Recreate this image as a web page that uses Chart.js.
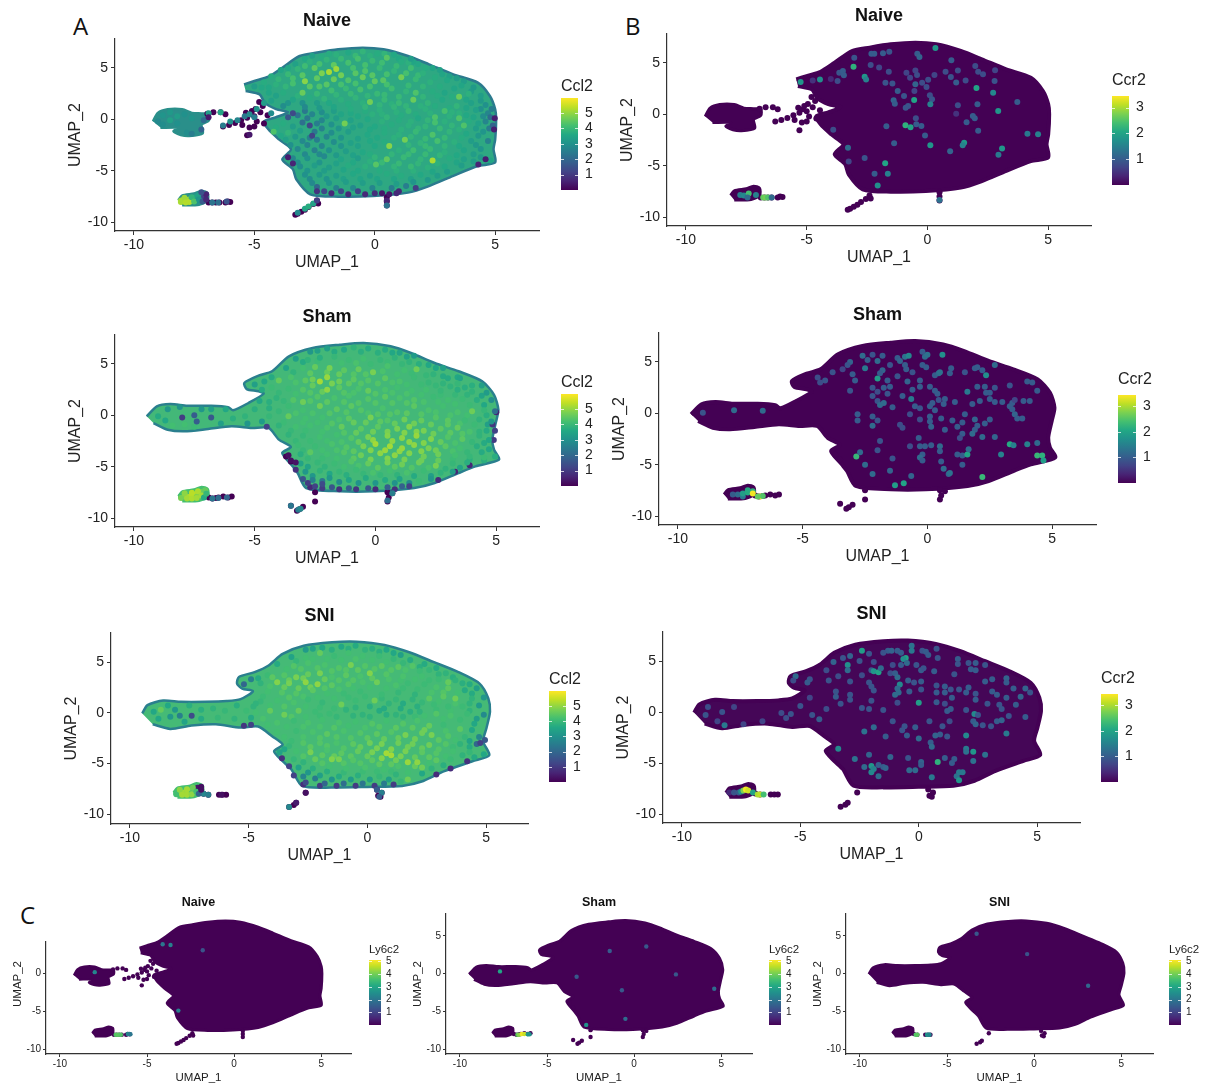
<!DOCTYPE html>
<html>
<head>
<meta charset="utf-8">
<title>UMAP feature plots</title>
<script src="https://cdn.jsdelivr.net/npm/chart.js@4"></script>
<style>
  html, body { margin: 0; background: #fff; }
  #page { position: relative; width: 1211px; height: 1083px; overflow: hidden; }
  canvas { position: absolute; filter: blur(0.45px); }
  .tag { position: absolute; font: 24px "Open Sans", sans-serif; color: #111; line-height: 24px; }
</style>
</head>
<body>
<div id="page">
  <div class="tag" style="left:73px;top:14px">A</div>
  <div class="tag" style="left:625px;top:14px">B</div>
  <div class="tag" style="left:20px;top:903px">C</div>
</div>
<script>
// tick labels
var xTickValues = [-10, -5, 0, 5];
var yTickValues = [5, 0, -5, -10];
var yTickValuesCut = [0, -5, -10];
var ccl2Ticks = [1, 2, 3, 4, 5];
var ccr2Ticks = [1, 2, 3];
var ly6c2Ticks = [1, 2, 3, 4, 5];

// top of each colour bar, in expression units
var ccl2Max = 5.98;
var ccr2Max = 3.45;
var ly6c2Max = 5.1;

var viridis = ['#440154', '#482475', '#414487', '#355f8d', '#2a788e', '#21918c', '#22a884', '#44bf70', '#7ad151', '#bddf26', '#fde725'];

// outlines of the big cell cloud
var naiveOutline = [[-5.43,3.4],[-5,3.73],[-4.42,4.15],[-3.84,5.03],[-3.12,6.17],[-2.39,6.5],[-1.52,6.82],[-.5,6.98],[.36,6.82],[1.38,6.17],[2.25,5.36],[3.26,4.38],[4.28,3.57],[4.78,2.27],[5,.97],[5.04,0],[5,-1.95],[4.93,-2.92],[5,-4.2],[4.28,-4.55],[3.26,-5.5],[2.25,-6.5],[1.38,-7.14],[-.07,-7.47],[-1.52,-7.53],[-2.68,-7.3],[-3.26,-5.84],[-3.4,-4.87],[-3.84,-3.9],[-3.48,-2.92],[-3.98,-1.95],[-4.42,-.97],[-4.6,-.2],[-4.1,.2],[-3.6,.7],[-4.1,1],[-4.56,1.6],[-4.78,2.43],[-5.36,2.76]];
var shamOutline = [[-9.47,-.1],[-9.05,.88],[-8.49,1.1],[-7.79,.94],[-6.8,.94],[-6.1,.8],[-5.89,.49],[-5.26,1.2],[-4.63,2.1],[-4.84,2.34],[-5.33,2.56],[-5.43,3.15],[-4.84,3.86],[-4.28,4.29],[-3.58,5.75],[-2.6,6.56],[-1.47,6.88],[-.49,7.05],[.63,6.72],[1.47,6.07],[2.45,5.1],[3.44,4.29],[4.42,3.31],[4.91,2],[5.09,.55],[4.98,-.75],[4.84,-2.37],[4.91,-3.34],[5.12,-4.3],[4.14,-4.97],[3.44,-5.62],[2.45,-6.59],[1.61,-7.08],[-.07,-7.4],[-1.47,-7.4],[-2.87,-7.08],[-3.22,-5.62],[-3.43,-4.97],[-3.86,-3.67],[-3.5,-3.08],[-4,-2.37],[-4.42,-1.23],[-5.12,-1.23],[-5.96,-1.07],[-6.93,-1.33],[-7.91,-1.56],[-8.6,-1.4],[-9.19,-.75]];
var sniOutline = [[-9.48,-.07],[-9.26,.75],[-8.6,1.2],[-7.85,1.07],[-6.82,1.07],[-5.93,1.14],[-5.34,1.33],[-4.82,2.12],[-5.27,2.38],[-5.49,2.87],[-5.41,3.52],[-4.75,4],[-4.16,4.66],[-3.57,5.8],[-2.68,6.6],[-1.49,6.94],[-.46,7],[.72,6.68],[1.76,5.96],[2.8,4.98],[3.83,4],[4.72,2.87],[5.09,1.4],[5.16,.1],[5.01,-1.53],[4.87,-2.83],[5.13,-4.2],[4.42,-4.79],[3.24,-5.77],[2.35,-6.74],[1.46,-7.23],[-.01,-7.33],[-1.49,-7.39],[-2.75,-7.23],[-3.2,-5.6],[-3.57,-4.79],[-3.93,-3.81],[-3.57,-3.16],[-4,-2.35],[-4.6,-1.37],[-5.34,-1.47],[-6.38,-1.14],[-7.41,-1.27],[-8.3,-1.6],[-9.04,-1.14]];
// detached pieces: the naive tail and the little cluster at the lower left
var naiveTailOutline = [[-9.2,-.2],[-9,.6],[-8.6,.95],[-8,.95],[-7.6,.6],[-7.2,.55],[-6.9,.5],[-6.9,-.1],[-7.2,-.5],[-7.15,-1.35],[-7.7,-1.6],[-8.05,-1.5],[-8.35,-1.15],[-8.15,-.8],[-8.9,-.8]];
var clusterOutline = [[-8.15,-7.9],[-8,-7.45],[-7.5,-7.25],[-7.2,-7],[-6.95,-7.2],[-6.95,-7.9],[-7.3,-8.3],[-8,-8.35]];

// small clusters and the loose naive tail, lowest expression
var naiveLoose = [[-6.7,.7],[-6.4,.7],[-6.2,.5],[-6.95,.55],[-6.3,-.7],[-6.05,-.55],[-5.8,-.35],[-5.55,-.1],[-5.3,.15],[-5.15,.5],[-5,.3],[-4.9,-.2],[-5.2,-.8],[-5,-.7],[-5.3,-1.55],[-5.5,-.55],[-4.75,.7],[-4.95,1],[-4.65,1.3],[-4.45,.4],[-4.8,1.7],[-4.6,-.4],[-5.1,.8],[-5.35,.65],[-6.9,-8.1],[-6.75,-8.1],[-6.6,-8.1],[-6.45,-8.1],[-6.2,-8.1],[-6.1,-8],[-6,-8.05],[-3.3,-9.3],[-3.2,-9.2],[-3.05,-9],[-2.9,-8.8],[-2.75,-8.55],[-2.55,-8.25],[-2.4,-7.9],[-2.35,-8.2],[.5,-7.6],[.5,-8],[.5,-8.4]];
var shamLoose = [[-6.9,-8],[-6.75,-8.1],[-6.6,-8.05],[-6.5,-8],[-6.3,-7.9],[-6.1,-8],[-5.95,-7.9],[-3.5,-8.8],[-3.25,-9.3],[-3.15,-9.15],[-3,-8.9],[-2.5,-8.4],[-2.5,-7.5],[.5,-7.5],[.5,-8.4],[.55,-8],[.7,-7.6],[-3.7,-4],[-3.5,-4.5]];
var sniLoose = [[-6.9,-8],[-6.7,-8.1],[-6.25,-8.1],[-6.1,-8.1],[-5.95,-8.1],[-3.3,-9.3],[-3.1,-9.1],[-3,-8.9],[-2.6,-7.9],[.4,-7.6],[.45,-8.2],[.55,-8.3],[.6,-7.9]];

// brighter cells, [UMAP_1, UMAP_2, expression]
var naiveCcl2 = [[-2.6,6.2,3.1],[-1.9,6.4,3.4],[-1.1,6.5,3.3],[-.5,6.6,3.6],[.1,6.4,3.4],[.8,6.3,3.3],[1.5,5.9,3],[-3.3,5.4,3.1],[-2.7,5.6,3.5],[-2,5.8,3.6],[-1.4,5.9,3.7],[-.7,5.9,3.9],[-.1,5.7,3.7],[.5,6,4.1],[1.1,5.6,3.4],[1.8,5.4,3.3],[2.4,5,3.2],[-3.9,4.8,3.2],[-3.2,4.9,3.6],[-2.5,5,4.2],[-1.9,4.6,4.9],[-1.6,4.9,4.8],[-.9,5,3.9],[-.4,4.7,4],[.2,5,3.7],[.8,4.7,3.6],[1.5,5,3.8],[2,4.5,3.5],[2.8,4.4,3.2],[3.4,4,3],[-4.6,3.6,3.4],[-4,3.9,3.6],[-3.4,4,3.9],[-2.9,3.7,4.6],[-2.4,4,4.2],[-1.7,3.9,4.3],[-1.1,3.8,4],[-.5,4.1,4.3],[0,3.7,4.2],[.35,3.8,4.1],[1.1,4.1,4.4],[1.7,3.9,3.7],[2.3,3.6,3.5],[3,3.8,3.3],[3.6,3.3,3.2],[4.1,3.1,2.9],[-5,3.2,3],[-4.4,3.1,3.3],[-3.7,3.2,3.6],[-3,2.6,4.3],[-2.3,3.2,4],[-1.8,2.8,3.8],[-1.2,3,3.7],[-.6,2.9,3.9],[.1,2.5,3.7],[.7,3,3.8],[1.3,2.7,3.6],[1.7,2.6,4],[2.4,2.7,3.4],[2.9,2.6,3.2],[3.5,2.2,4.3],[3.9,2.5,3.5],[4.4,2.3,3],[-4.1,2.3,3.1],[-3.4,1.9,3.2],[-2.7,2.1,3.4],[-2.1,2,3.6],[-1.4,1.9,3.5],[-.8,2.1,3.6],[-.2,1.7,4.4],[.4,1.9,3.7],[1,1.6,3.7],[1.6,1.9,4.3],[2.2,1.6,3.6],[2.8,1.9,3.3],[3.4,1.3,3.6],[4,1.6,3.1],[4.6,1.4,2.7],[-3.8,1.3,2.6],[-2.9,1.2,2.5],[-2.3,1.1,2.9],[-1.7,1.2,3.2],[-1,1,3.4],[-.4,1.2,3.6],[.2,.9,3.5],[.8,1.2,3.6],[1.4,.8,3.7],[2.1,1,3.5],[2.9,.8,3.9],[3.5,.6,3.5],[4.2,.9,3.1],[4.7,.6,2.4],[-4.3,.6,2.6],[-3.2,.4,2],[-2.6,.5,2.4],[-2,.3,2.9],[-1.4,.5,3.2],[-.7,.3,3.3],[-.1,.5,3.5],[.5,.2,3.6],[1.1,.4,3.4],[1.8,.1,3.3],[2.5,.2,4],[3.1,.3,3.5],[3.5,.1,4],[4.1,.2,3.2],[4.8,.2,1.8],[-3.8,-.4,3.4],[-3,-.3,1.9],[-2.4,-.4,2.2],[-1.8,-.5,2.7],[-1.25,-.4,4.4],[-.6,-.6,3.1],[0,-.7,3.3],[.7,-.5,3.4],[1.4,-.6,3.5],[2.1,-.7,3.6],[2.5,-.3,3.9],[3.2,-.6,3.6],[3.7,-.6,4],[4.3,-.4,3.1],[4.9,-.6,1.6],[-4.2,-1.2,4],[-3.6,-1.3,3.6],[-3.1,-1.1,3],[-2.5,-1.2,2.1],[-1.8,-1.3,2.6],[-1.1,-1.2,3],[-.3,-1.5,3.3],[.4,-1.3,3.4],[1,-1.5,3.5],[1.7,-1.2,3.7],[2.4,-1.5,4],[3.1,-1.2,3.6],[3.8,-1.4,3.3],[4.5,-1.2,2.8],[-3.7,-2,3.1],[-3,-2.1,2.5],[-2.4,-2,2.2],[-1.7,-2.2,2.6],[-1,-2.3,3.1],[-.2,-2.1,3.3],[.4,-2.2,3.4],[1.25,-2,4.4],[1.9,-2.3,3.6],[2.6,-2.1,3.9],[3.3,-2.2,3.5],[4,-2.1,3],[4.7,-2.1,2.3],[-3.2,-2.9,2.5],[-2.5,-3,2.3],[-1.9,-3,2.7],[-1.2,-3.1,3],[-.5,-3.2,3.3],[.6,-2.6,4.6],[1,-3,3.5],[1.6,-3,3.8],[2.3,-2.9,3.7],[2.9,-3.2,3.5],[3.7,-3,3.2],[4.4,-2.9,2.8],[-3.4,-3.8,2.4],[-2.8,-3.8,2.7],[-2.1,-3.6,2.5],[-1.4,-3.9,3.2],[-.7,-3.8,3],[0,-3.7,3.6],[.5,-3.9,4.2],[1.2,-3.7,3.7],[1.9,-3.9,3.6],[2.4,-4,4.9],[3.1,-3.8,3.4],[3.7,-3.9,3.1],[4.4,-3.7,2.9],[4.8,-4,3.2],[-3.1,-4.6,2.6],[-2.5,-4.5,3],[-1.9,-4.7,3],[-1.1,-4.5,3.4],[-.4,-4.6,3.5],[.05,-4.4,4.1],[.8,-4.6,3.6],[1.5,-4.6,3.7],[2.2,-4.7,3.5],[2.9,-4.6,3.3],[3.6,-4.5,3],[-2.9,-5.4,2.7],[-2.3,-5.4,2.9],[-1.6,-5.5,3],[-.9,-5.3,3.3],[-.2,-5.5,3.1],[.5,-5.3,3.4],[1.1,-5.5,3.4],[1.9,-5.4,3.3],[2.6,-5.5,3],[-2.6,-6.2,2.5],[-1.9,-6.2,2.8],[-1.2,-6.1,3],[-.5,-6.2,3],[.2,-6.2,3],[.9,-6.3,3],[1.6,-6.1,2.8],[-2.4,-7,.6],[-1.8,-7.2,.4],[-1.1,-7.3,.4],[-.4,-7.3,.4],[.3,-7.2,.1],[.6,-7.3,.1],[1,-7,.4],[1.7,-6.7,.8],[4.6,-3.9,.2],[4.3,-4.4,.3],[4.95,-1,.2],[4.98,.1,.2],[-3.4,-4.3,.3],[-3.6,-3.7,.2],[-2.6,-1.6,.9],[-2.7,-.6,1],[-3.4,.6,1],[-3.6,.2,1.3],[-9,-.2,2.5],[-8.8,.4,2.8],[-8.5,.7,2.9],[-8.2,.3,3],[-7.9,.5,2.7],[-7.6,.1,2.8],[-8.8,-.5,2.6],[-8.5,-.1,3.1],[-8.2,-.4,2.7],[-7.8,-1.3,2.6],[-7.6,-1.4,2.2],[-7.2,-1,1.6],[-6.9,.6,3],[-6.4,.7,3.2],[-7.1,-.1,1.8],[-6.9,.2,.1],[-6.3,-.6,2.2],[-6,-.2,2.7],[-5.7,-.1,2.4],[-5.4,.3,2.1],[-5.2,.5,2.5],[-5,.2,2.2],[-5.2,-1.5,.1],[-4.9,1,2.8],[-4.6,1.6,3],[-8.05,-7.9,4.7],[-7.95,-7.85,4.9],[-7.8,-7.9,5],[-7.7,-7.8,4.9],[-7.6,-7.7,3.8],[-7.45,-7.6,3.3],[-7.3,-7.4,3],[-7.15,-7.3,2.5],[-7.4,-7.95,2.7],[-7.1,-7.6,.9],[-6.75,-8.1,2],[-6.5,-8.1,1.9],[-6.15,-8,1.2],[-3.2,-9.1,2.5],[-2.9,-8.7,3.2],[-2.75,-8.5,3.4],[-2.55,-8.2,3.1],[-2.4,-7.9,.8],[.5,-7.9,.3],[.5,-8.4,2],[-8.05,-8.05,4.9],[-7.9,-7.65,4.8],[-7.85,-8.1,5],[-7.7,-8.05,5],[-7.6,-7.6,3.6],[-7.5,-8,4],[-7.35,-7.45,3.1],[-7.3,-7.8,2.8],[-7.15,-8,1.4],[-7,-7.8,.4],[-7,-7.3,.3],[-7.2,-7.1,1.2]];
var naiveCcl2Fill = [[-2.9,5.9,3.3],[-2.2,6.1,3.4],[-1.6,6.3,3.5],[-.8,6.2,3.7],[-.2,6.2,3.5],[.4,6.4,3.6],[1,5.9,3.3],[1.6,5.6,3.2],[-3.6,5,3.3],[-2.9,5.2,3.8],[-2.3,5.4,3.9],[-1.7,5.3,4.2],[-1.1,5.5,3.9],[-.4,5.3,3.9],[.3,5.5,3.8],[.9,5.2,3.7],[1.4,5.5,3.5],[2.1,5,3.4],[2.7,4.8,3.1],[-4.3,4.2,3.4],[-3.6,4.4,3.7],[-3,4.3,4.1],[-2.2,4.5,4.5],[-1.4,4.3,4.4],[-.8,4.5,4.1],[-.1,4.3,4.1],[.5,4.4,3.9],[1.3,4.5,3.9],[1.8,4.3,3.7],[2.5,4.1,3.4],[3.1,4.2,3.1],[3.7,3.7,3],[-4.7,3.1,3.3],[-4.1,3.4,3.5],[-3.4,3.5,3.9],[-2.7,3.2,4.1],[-2,3.4,4.1],[-1.4,3.4,3.9],[-.8,3.5,3.9],[-.2,3.2,3.9],[.5,3.4,3.9],[1.4,3.3,3.7],[2,3.2,3.6],[2.7,3.2,3.4],[3.3,3,3.2],[4,2.7,3],[-4.4,2.6,3.2],[-3.8,2.6,3.4],[-3.2,2.3,3.5],[-2.4,2.5,3.7],[-1.6,2.4,3.6],[-1,2.5,3.7],[-.3,2.3,3.6],[.4,2.4,3.7],[1,2.2,3.7],[2,2.2,3.6],[2.6,2.3,3.4],[3.2,2.2,3.4],[3.8,1.9,3.2],[4.4,1.8,2.9],[-4.3,1.8,3.1],[-3.6,1.6,2.8],[-3,1.6,2.7],[-2.4,1.6,3],[-1.9,1.6,3.3],[-1.1,1.5,3.4],[-.5,1.6,3.5],[.2,1.4,3.6],[.7,1.5,3.5],[1.3,1.3,3.6],[1.9,1.3,3.5],[2.5,1.3,3.4],[3.1,1.1,3.4],[3.8,1.1,3.2],[4.4,1,2.7],[4.85,1,2.2],[-2.9,.8,2.1],[-2.2,.7,2.6],[-1.7,.8,3],[-1,.6,3.3],[-.4,.8,3.4],[.3,.5,3.5],[.9,.7,3.5],[1.7,.5,3.4],[2.3,.6,3.5],[3.2,.7,3.5],[3.8,.4,3.3],[4.5,.3,2.6],[-2.8,.1,2.1],[-2.2,-.1,2.4],[-1.6,.1,3],[-1,-.1,3.1],[-.3,0,3.3],[.3,-.2,3.5],[1,-.1,3.4],[1.5,-.2,3.5],[2.2,-.1,3.6],[2.9,-.2,3.5],[3.9,-.2,3.4],[4.6,-.2,2.4],[-4.1,-.8,3.4],[-3.4,-.7,3],[-2.2,-.9,2.3],[-1.5,-.9,2.8],[-.9,-.8,3.1],[-.2,-1,3.3],[.4,-.9,3.4],[1.1,-1,3.5],[1.8,-.9,3.6],[2.7,-.9,3.7],[3.5,-1,3.5],[4.2,-.9,3],[4.75,-.9,2.2],[-3.9,-1.6,3.3],[-3.3,-1.7,2.9],[-2.7,-1.8,2.3],[-2,-1.7,2.4],[-1.4,-1.8,2.8],[-.7,-1.9,3.1],[.1,-1.8,3.3],[.8,-1.8,3.5],[1.5,-1.7,3.6],[2.1,-1.9,3.7],[2.9,-1.8,3.7],[3.6,-1.8,3.4],[4.3,-1.6,2.9],[-3.5,-2.5,2.7],[-2.8,-2.5,2.4],[-2.2,-2.6,2.4],[-1.4,-2.6,2.8],[-.7,-2.6,3.1],[0,-2.6,3.3],[1.4,-2.5,3.6],[2.1,-2.6,3.7],[2.9,-2.6,3.6],[3.5,-2.6,3.3],[4.2,-2.5,2.9],[-2.9,-3.4,2.5],[-2.3,-3.4,2.5],[-1.6,-3.5,2.9],[-.9,-3.5,3.1],[-.2,-3.4,3.4],[.7,-3.4,3.6],[1.4,-3.4,3.7],[2.1,-3.4,3.7],[2.7,-3.5,3.6],[3.4,-3.5,3.3],[4.1,-3.4,3],[-3.2,-4.2,2.6],[-2.3,-4.2,2.8],[-1.6,-4.3,3.1],[-.9,-4.2,3.3],[-.2,-4.1,3.5],[.3,-4.2,3.7],[1,-4.3,3.7],[1.8,-4.3,3.6],[2.6,-4.3,3.5],[3.4,-4.2,3.2],[4.1,-4.1,3],[-2.8,-5,2.8],[-2.1,-5,3],[-1.3,-4.9,3.2],[-.7,-5,3.3],[.2,-5,3.4],[.9,-5,3.5],[1.6,-5,3.5],[2.4,-5.1,3.2],[3,-5.1,3],[-2.7,-5.8,2.6],[-2,-5.8,2.8],[-1.3,-5.8,3.1],[-.6,-5.8,3.2],[.1,-5.8,3.2],[.8,-5.8,3.2],[1.5,-5.8,3.1],[2.2,-5.9,2.9],[-2.4,-6.6,1.7],[-1.6,-6.7,2.3],[-.9,-6.7,2.5],[-.1,-6.7,2.4],[.7,-6.7,2.2],[1.3,-6.5,2.2],[-2.1,-7,1],[-1.4,-7,1],[-.7,-7,.9],[0,-7.2,.5],[.9,-7.2,.4]];
var shamCcl2 = [[-2.7,6.2,3],[-2,6.5,3.2],[-1.3,6.4,3.4],[-.9,6.6,3.7],[-.3,6.5,3.5],[.4,6.4,3.5],[1,6.1,3.3],[1.6,5.8,3.1],[-3.3,5.5,3.2],[-2.8,5.4,3.7],[-2.3,5.6,3.6],[-1.7,5.7,3.8],[-1.1,5.4,3.9],[-.5,5.5,4],[.2,5.4,3.8],[.8,5.6,3.7],[1.4,5.2,3.7],[2.2,4.9,3.4],[2.8,4.6,3.2],[-3.7,4.6,3.3],[-3,4.6,4],[-2.5,4.7,4.4],[-1.9,4.6,4.6],[-1.3,4.4,4.3],[-.7,4.5,4.4],[-.1,4.2,4.6],[.5,4.8,4.1],[1.2,4.4,4],[1.7,4.5,4.5],[2.4,4,3.7],[3,3.6,3.5],[3.5,3.6,3.3],[-4.6,3.3,3.4],[-4,3.4,4.4],[-3.5,3.7,4.1],[-2.9,3.4,4.3],[-2.3,3.3,5],[-2,3.7,4.9],[-1.5,3.3,4.5],[-.9,3.5,4.3],[-.3,3.4,4.2],[.4,3.6,4.3],[1,3.3,4.1],[1.6,3.7,3.9],[2.2,3.2,3.8],[2.8,3.1,3.7],[3.4,3.1,3.8],[4,2.9,3.6],[4.4,2.9,3.2],[-5,3,3.2],[-4.3,2.7,3.9],[-3.6,2.6,3.9],[-3,2.5,4.2],[-2.6,2.9,4.4],[-2,2.5,4.8],[-1.5,2.7,4.3],[-.7,2.6,4.1],[-.3,2.4,4.4],[.4,2.5,4.1],[.9,2.7,4],[1.5,2.4,4],[2.1,2.5,4],[2.7,2.4,3.8],[3.4,2.5,3.6],[4,2.3,3.7],[4.6,2.2,3.1],[-4.1,1.7,3.7],[-3.4,1.5,4.2],[-3,1.3,4.5],[-2.4,1.8,4.2],[-1.7,1.7,4.1],[-1.1,1.9,4.1],[-.3,1.6,4.2],[.4,1.8,4.3],[1,1.7,4.1],[1.6,1.5,4.2],[2.4,1.8,3.9],[3,1.5,4],[3.6,1.6,3.9],[4.2,1.5,3.6],[4.8,1.5,2.8],[-4.4,.7,3.6],[-3.6,.9,3.9],[-3,.5,4],[-2.3,.9,4.5],[-1.6,.6,4.3],[-1,.9,4.3],[-.3,.2,4.1],[.3,.7,4.1],[.9,.3,4.2],[1.6,.9,4.3],[2.2,.5,4.1],[2.8,.9,4],[3.4,.3,4.1],[4,.4,4.5],[4.5,.5,3.8],[4.95,.4,2],[-4.4,-.1,3.8],[-3.6,-.1,4.4],[-2.9,-.3,4],[-2.2,-.2,4],[-1.5,-.4,4.1],[-.9,-.7,4.4],[-.2,-.2,4.6],[.5,-.5,4.2],[1.2,-.4,4.5],[1.9,-.5,4.4],[2.5,-.2,4.2],[3,-.5,4.3],[3.7,-.5,3.9],[4.3,-.4,3.7],[4.8,-.6,3],[-4,-1,3.7],[-3.3,-1.1,4],[-2.7,-1,4],[-2,-1.2,4.1],[-1.4,-1.1,4.4],[-.6,-1.3,4.3],[.1,-1.1,4.3],[.9,-1.3,4.6],[1.4,-1.1,4.7],[2,-1.5,4.6],[2.7,-1.3,4.3],[3.4,-1.2,4.4],[3.9,-1.6,4.1],[4.6,-1.5,3.5],[-3.6,-1.9,3.7],[-3,-2,3.8],[-2.3,-2.1,4],[-1.6,-1.9,4],[-1,-2.2,4.2],[-.3,-2.1,4.6],[.5,-2,4.7],[1.1,-2.2,4.8],[1.7,-2,4.9],[2.3,-2.3,4.7],[3,-2.1,4.2],[3.6,-2.3,4.3],[4.3,-2,3.7],[4.7,-2.4,3.4],[-3.2,-2.9,3.9],[-2.5,-3,3.9],[-1.8,-2.8,4.1],[-1.2,-3.1,4.2],[-.5,-3,4.6],[0,-2.8,5],[.6,-3,5],[1.1,-3.2,4.9],[1.6,-2.9,4.8],[2.2,-3.2,4.6],[2.9,-3,4.3],[3.5,-3.2,4],[4.2,-3,3.6],[4.7,-3.3,3.4],[-3.1,-3.8,3.6],[-2.7,-3.6,4.3],[-2,-3.8,4],[-1.3,-3.6,4.2],[-.6,-3.9,4.5],[.2,-3.7,4.8],[.8,-3.9,4.8],[1.4,-3.7,4.7],[2,-4,4.5],[2.6,-3.8,4.5],[3.3,-3.9,4],[3.9,-4,3.8],[4.5,-4.1,3.9],[4.95,-4,3.6],[-3.1,-4.7,3.3],[-2.4,-4.6,3.8],[-1.7,-4.7,3.9],[-1,-4.5,4.2],[-.3,-4.7,4.4],[.5,-4.6,4.6],[1.1,-4.8,4.5],[1.8,-4.6,4.5],[2.5,-4.9,4.6],[3.2,-4.7,3.8],[3.8,-4.6,3.6],[-2.9,-5.5,3],[-2.3,-5.4,3.7],[-1.5,-5.5,3.8],[-.8,-5.3,3.9],[-.1,-5.6,4.1],[.6,-5.4,4],[1.3,-5.6,4.1],[2,-5.4,3.9],[2.7,-5.6,3.7],[3.2,-5.5,3.2],[-2.6,-6.3,2.4],[-1.9,-6.1,3],[-1.1,-6.3,3.3],[-.4,-6.1,3.5],[.4,-6.3,3.5],[1,-6.2,3.3],[1.8,-6.4,3.9],[2.3,-6.2,3],[-2.5,-6.9,1],[-1.8,-7,1.4],[-1.1,-7.1,1.6],[-.3,-7.1,1.5],[.5,-7,1.6],[1.1,-6.9,1.7],[-2.8,-6.6,.9],[-2.2,-6.7,1.2],[-3.6,-3.9,.1],[-3.5,-4.4,.1],[-3.3,-4.6,.2],[4.95,-1.5,1],[-9,-.1,3.5],[-8.6,.6,3],[-8.1,.8,2.9],[-8.7,-.5,3.4],[-8.4,-1,4],[-7.9,-.9,4],[-7.5,-1.1,3.9],[-7.4,-.6,1.6],[-8,-.2,.9],[-7.5,0,1.6],[-7.2,.6,3],[-6.8,.6,3.2],[-6.2,.6,3.4],[-6.8,-.2,1.5],[-6.4,-.8,3.2],[-5.9,-.3,3.6],[-5.4,-.1,3.7],[-5,.6,3.6],[-5.3,-.8,3],[-4.7,-.6,3.1],[-4.5,-1.1,1],[-4.8,1.4,3.4],[-8.05,-7.9,4],[-7.9,-7.85,4.8],[-7.75,-7.95,5.1],[-7.6,-7.8,5.2],[-7.45,-7.7,5.2],[-7.3,-7.6,5],[-7.15,-7.45,4.5],[-7.4,-7.9,4.7],[-6.75,-8.1,2.2],[-6.5,-8.05,2],[-6.15,-8,1.8],[-3.5,-8.8,2.2],[-3.2,-9.2,2.3],[-3.1,-9.1,2.6],[.5,-8.3,2],[.7,-7.6,2.4],[-8.05,-8.05,4.6],[-7.9,-7.6,4.8],[-7.8,-8.1,5],[-7.6,-8.1,5.1],[-7.6,-7.55,5.2],[-7.4,-8.05,5],[-7.35,-7.4,5.1],[-7.2,-7.8,5],[-7.1,-8,3.5],[-7.05,-7.3,4.4],[-7,-7.65,3.8]];
var shamCcl2Fill = [[-2.4,6.3,3.2],[-1.7,6.2,3.5],[-.6,6.2,3.6],[.1,6.1,3.6],[.7,6.1,3.4],[1.3,5.7,3.3],[-3,5.2,3.5],[-2.4,5.3,3.9],[-1.4,5.1,4],[-.8,5.1,4.1],[-.2,5,3.9],[.5,5.2,3.9],[1.1,5,3.8],[1.8,5,3.6],[2.5,4.6,3.4],[-3.4,4.2,3.7],[-2.7,4.1,4.3],[-2,4.2,4.4],[-1.5,4,4.4],[-.9,4,4.2],[-.4,4,4.2],[.3,4.3,4.1],[.9,4,4],[1.5,4.1,3.9],[2.1,3.9,3.8],[2.8,3.8,3.5],[3.4,3.7,3.4],[-4.3,3.7,3.5],[-3.3,3.2,4.1],[-2.6,3.5,4.5],[-1.8,3.1,4.6],[-1.1,3.1,4.3],[-.6,3.1,4.2],[.1,3.1,4.2],[.7,3.2,4.1],[1.3,3,4],[1.9,3,3.9],[2.5,2.9,3.8],[3.1,2.8,3.7],[3.7,2.7,3.6],[-4.7,2.5,3.5],[-4,2.2,3.8],[-3.3,2.1,4],[-2.7,2.2,4.2],[-2.2,2.3,4.4],[-1.3,2.2,4.2],[-.9,2.2,4.1],[0,2.1,4.2],[.7,2.2,4.1],[1.3,2.1,4.1],[1.9,2,4],[2.7,2,3.9],[3.3,2,3.8],[3.8,2,3.7],[4.4,1.9,3.3],[-4.4,1.3,3.6],[-3.8,1.4,3.8],[-2.7,1.4,4.2],[-2,1.3,4.3],[-1.3,1.3,4.2],[-.7,1.2,4.2],[0,1.2,4.2],[.7,1.2,4.2],[1.3,1.2,4.2],[2,1.3,4.1],[2.6,1.3,4],[3.3,1.1,4],[3.9,1,3.9],[4.5,1,3.4],[-4,.4,3.8],[-3.3,.2,4.1],[-2.6,.2,4.1],[-1.9,.2,4.2],[-1.2,.3,4.2],[-.6,.5,4.2],[.1,.1,4.2],[.6,.1,4.2],[1.3,.2,4.3],[1.9,.1,4.2],[2.5,.3,4.1],[3.1,0,4.1],[3.8,0,4],[4.6,0,3.6],[-3.8,-.7,3.9],[-3,-.7,4],[-2.4,-.7,4],[-1.8,-.8,4.2],[-1.1,-.3,4.3],[-.4,-.7,4.4],[.2,-.6,4.3],[.8,-.8,4.4],[1.6,-.8,4.5],[2.3,-.9,4.4],[3,-.9,4.3],[3.5,-.8,4.1],[4.1,-.9,3.9],[4.65,-.9,3.2],[-3.5,-1.5,3.8],[-2.9,-1.5,3.9],[-2.2,-1.6,4],[-1.3,-1.7,4.2],[-.8,-1.7,4.4],[-.1,-1.6,4.5],[.5,-1.6,4.6],[1.2,-1.7,4.7],[1.7,-1.6,4.7],[2.4,-1.8,4.5],[3.1,-1.7,4.3],[3.6,-1.8,4.2],[4.3,-1.6,3.7],[-3.3,-2.5,3.8],[-2.7,-2.5,3.9],[-2,-2.5,4],[-1.4,-2.6,4.1],[-.7,-2.6,4.4],[-.1,-2.4,4.8],[.7,-2.5,4.8],[1.4,-2.6,4.8],[2,-2.7,4.7],[2.7,-2.6,4.4],[3.3,-2.7,4.1],[4,-2.6,3.8],[4.5,-2.7,3.5],[-3,-3.4,3.8],[-2.2,-3.4,4],[-1.6,-3.4,4.1],[-.9,-3.5,4.3],[-.2,-3.4,4.7],[.4,-3.4,4.9],[1,-3.5,4.8],[1.9,-3.5,4.7],[2.5,-3.4,4.5],[3.2,-3.5,4.1],[3.8,-3.6,3.8],[4.4,-3.6,3.5],[-2.8,-4.2,3.8],[-2.2,-4.2,3.9],[-1.6,-4.2,4],[-.9,-4.2,4.3],[-.2,-4.3,4.6],[.5,-4.2,4.7],[1.2,-4.3,4.6],[1.9,-4.4,4.5],[2.6,-4.4,4.4],[3.2,-4.3,3.9],[3.9,-4.3,3.6],[4.5,-4.4,3.6],[-2.8,-5,3.3],[-2.1,-5,3.7],[-1.3,-5,4],[-.7,-4.9,4.1],[.1,-5.1,4.3],[.8,-5,4.3],[1.5,-5.1,4.2],[2.2,-5.1,4.1],[2.9,-5.2,3.7],[3.5,-5.1,3.3],[-2.6,-5.9,3],[-1.9,-5.7,3.4],[-1.2,-5.8,3.6],[-.5,-5.7,3.8],[.2,-5.8,3.8],[.9,-5.8,3.7],[1.6,-5.9,3.5],[2.3,-5.9,3.2],[-2.2,-6.4,2.2],[-1.5,-6.5,2.7],[-.7,-6.6,2.9],[0,-6.6,3],[.8,-6.6,2.9],[1.4,-6.6,2.7],[-2.7,-7,.5],[-2.2,-7.1,.9],[-1.5,-7.2,.7],[-.8,-7.2,.8],[0,-7.2,.6],[.8,-7.2,.7],[1.4,-6.9,1],[-3,-6.2,1.4],[-3.3,-5.3,.7],[3.9,-4.85,.5],[3.3,-5.5,.5],[2.6,-6.3,.6],[4.9,-2.4,.9],[5,.3,.4],[4.85,-.9,.8]];
var sniCcl2 = [[-2.6,6.2,3.1],[-1.9,6.4,3.4],[-1.1,6.5,3.4],[-.5,6.6,3.5],[.2,6.3,3.6],[.8,6.2,3.4],[1.4,5.7,3.2],[-3.2,5.5,3.3],[-2.6,5.4,4],[-2,5.9,4.4],[-1.4,5.6,3.9],[-.8,5.9,4],[-.2,5.6,4],[.5,5.6,3.9],[1.1,5.3,3.8],[1.8,5.2,3.5],[2.4,4.8,3.5],[-3.8,4.8,3.5],[-3.1,4.6,4.2],[-2.5,4.9,4.1],[-1.8,4.7,4.1],[-1.2,4.4,4.2],[-.7,4.7,4.6],[-.1,4.6,4.2],[.6,4.6,4.3],[1.3,4.5,4.3],[1.9,4.6,4.2],[2.6,4.2,3.8],[3.3,3.9,3.7],[-4.6,3.4,3.5],[-4,3.5,4.3],[-3.5,3.7,4.2],[-3,3.5,4.6],[-2.5,3.8,4.4],[-2,3.9,4.6],[-1.5,3.5,4.1],[-.9,3.7,4.3],[-.3,3.6,4.1],[.1,3.9,4.7],[.8,3.8,4.2],[1.5,3.6,4.1],[2.3,3.6,4],[3,3.3,3.9],[3.4,3,4.4],[4,2.9,3.6],[-4.9,3.3,2.4],[-5.2,2.8,1.8],[-4.5,2.9,3.7],[-3.8,3,4.7],[-3.3,2.9,4.6],[-2.6,3,4.8],[-2.1,2.8,4.8],[-1.5,2.7,4.3],[-.8,2.8,4.2],[-.2,3,4.1],[.4,3,4.5],[1.2,2.7,4.1],[1.7,2.9,3.9],[2.4,2.8,3.9],[2.9,2.5,4.1],[3.4,2.4,4.3],[4.1,2.2,3.5],[4.6,2.4,3.2],[-4.2,2.1,4],[-3.6,2,4.2],[-3,1.9,4.2],[-2.3,2.2,4.3],[-1.7,1.9,4],[-1,1.9,3.9],[-.3,2.1,3.9],[.6,1.8,3.9],[1.3,2,3.8],[2,1.8,3.7],[2.6,1.4,4.3],[3.2,1.6,4.3],[3.7,1.4,4.5],[4.4,1.4,3.7],[4.9,1.5,3],[-4.5,1.1,3.8],[-3.8,1.2,4],[-3.1,1,4.1],[-2.5,1.3,3.9],[-1.9,1,3.8],[-1.1,.8,4.5],[-.5,1.2,3.9],[.3,1.2,4.5],[.9,.9,3.7],[1.5,.9,3.5],[2.1,.6,3.6],[2.8,.8,3.9],[3.4,.6,3.9],[4,.6,3.9],[4.7,.7,3.1],[-4.1,.2,4.4],[-3.5,-.2,4.5],[-2.9,.2,4.4],[-2.2,.1,3.9],[-1.6,-.1,3.9],[-.9,.3,3.7],[-.2,-.2,3.7],[.5,.2,3.5],[1.2,-.2,3.7],[1.8,.1,3.6],[2.4,-.3,4],[2.9,-.1,4.2],[3.5,-.3,4.1],[4.2,-.1,3.9],[4.9,-.2,2.7],[-4.4,-.6,4.1],[-3.8,-1,4.1],[-3.1,-.8,3.9],[-2.5,-1,4.1],[-1.9,-.7,4],[-1.2,-1,4.1],[-.5,-.9,4],[.2,-1.1,4.2],[.8,-.8,4],[1.5,-1.1,4.2],[2.1,-.8,4.1],[2.6,-1.3,4.4],[3.2,-1.2,3.9],[3.9,-1.6,4.3],[4.5,-1.1,3.4],[-3.8,-1.9,4],[-3,-1.8,3.9],[-2.3,-1.9,4.1],[-1.7,-2.1,4.3],[-1,-1.8,4.1],[-.3,-2,4.2],[.4,-2.1,4.3],[1,-1.9,4.2],[1.6,-2.2,4.6],[2.3,-2,4.5],[2.7,-2.2,4.6],[3.4,-2.3,4.2],[4.1,-2.4,3.8],[4.7,-2.4,2.6],[-3.2,-2.8,3.9],[-2.7,-3,4.2],[-2,-3,4.2],[-1.3,-3,4.1],[-.6,-3.1,4.3],[.1,-3,4.5],[.6,-3.1,4.6],[1.3,-3,4.5],[1.9,-3.1,4.5],[2.6,-3.2,4.5],[3.3,-3.1,4.2],[3.9,-3.1,3.7],[4.6,-3.1,1.8],[-3.5,-3.6,3.4],[-3,-3.8,4],[-2.4,-3.9,4.6],[-1.7,-3.7,4.1],[-1.1,-4,4.3],[-.4,-3.8,4.4],[.2,-3.9,4.6],[.8,-4,5],[1,-4.2,5],[1.6,-3.8,4.6],[2.3,-3.9,4.3],[2.9,-4,4.2],[3.6,-3.8,4],[4.3,-3.9,3.8],[4.9,-4.1,3.4],[-3.1,-4.6,3.8],[-2.2,-4.6,4.4],[-1.5,-4.6,4.7],[-1.2,-4.6,4.6],[-.6,-4.7,4.2],[.2,-4.7,4.3],[1.2,-4.7,4.5],[1.7,-4.9,4.9],[2.1,-4.9,4.8],[2.9,-4.7,4.3],[3.5,-4.6,3.9],[-2.9,-5.4,3.3],[-2.3,-5.5,3.6],[-1.6,-5.3,4],[-.9,-5.5,4],[-.1,-5.4,4.1],[.7,-5.6,4],[1.3,-5.3,4.1],[2.3,-5.4,4.5],[2.7,-5.5,3.7],[-2.7,-6.3,2.5],[-2,-6.2,3.2],[-1.2,-6.3,3.5],[-.4,-6.2,3.6],[.5,-6.3,3.8],[1.2,-6.1,3.7],[1.7,-6.6,4.5],[-2.6,-6.9,1.2],[-1.8,-7,1.8],[-1,-7,2],[-.2,-7,2.2],[.7,-7,2.3],[-3.6,-4.5,.7],[-3.7,-3.9,3.3],[-3.3,-5.3,1],[4.95,-2.7,1.5],[4.75,-3,1],[-4.9,-1.2,1],[-5.2,-1.3,.8],[-9,.1,3.4],[-8.7,.3,4.4],[-8.8,-.6,3.4],[-8.4,.7,3.4],[-8.1,.3,3],[-8.3,-.4,3],[-7.9,-.3,2.4],[-7.7,-.9,3.3],[-7.5,.7,3.6],[-7.4,-.3,1.2],[-7,.3,3.6],[-7,-.6,3.5],[-6.5,.4,3.7],[-6.3,-.5,3.8],[-6,.2,3.8],[-5.6,-.6,3.7],[-5.5,.7,3.6],[-5.1,.2,3.9],[-4.9,-.5,3.5],[-4.7,.9,3.7],[-8.05,-7.9,4],[-7.9,-7.85,4.8],[-7.75,-7.9,5],[-7.6,-7.8,4.9],[-7.45,-7.7,4.7],[-7.3,-7.55,4.2],[-7.4,-7.95,4],[-7.15,-7.4,.2],[-6.9,-8,2.6],[-6.7,-8.1,2.4],[-6.15,-8.1,.1],[-3.3,-9.3,2.6],[-3,-8.9,.3],[-2.6,-7.9,.1],[.4,-7.6,1.6],[.6,-7.9,2.4],[.5,-8.3,1.6],[-8.05,-8.05,4],[-7.9,-7.6,4.8],[-7.8,-8.1,5],[-7.6,-8.1,5],[-7.6,-7.55,5],[-7.4,-8.05,4.8],[-7.35,-7.4,4.5],[-7.2,-7.8,4],[-7.1,-8,1.8],[-7,-7.3,.1],[-7,-7.6,.1]];
var sniCcl2Fill = [[-2.3,6.3,3.3],[-1.5,6.2,3.6],[-.8,6.3,3.6],[-.1,6.2,3.7],[.5,6,3.6],[1.1,5.9,3.4],[-3,5.1,3.8],[-2.3,5.3,4],[-1.7,5.3,4],[-1.1,5.2,4],[-.5,5.3,4.1],[.2,5.2,4],[.8,5,4],[1.5,4.9,3.8],[2.2,4.5,3.6],[2.9,4.4,3.5],[-3.4,4.3,4],[-2.8,4.3,4.2],[-2.1,4.4,4.2],[-1.5,4.1,4.2],[-.9,4.2,4.2],[-.4,4.2,4.3],[.3,4.3,4.2],[1,4.2,4.2],[1.6,4.2,4.1],[2.2,4.1,3.9],[3,3.8,3.7],[3.6,3.5,3.6],[-4.2,3.7,3.9],[-3.3,3.2,4.4],[-2.7,3.4,4.5],[-1.8,3.3,4.4],[-1.2,3.2,4.2],[-.6,3.2,4.2],[.2,3.4,4.3],[.9,3.3,4.1],[1.4,3.2,4],[2,3.3,4],[2.6,3.2,3.9],[3.7,3.2,3.7],[4.3,2.8,3.5],[-4.1,2.6,4.1],[-3.5,2.5,4.4],[-2.9,2.4,4.4],[-2.4,2.5,4.5],[-1.8,2.4,4.2],[-1.2,2.3,4.1],[-.6,2.4,4],[.1,2.5,4],[.8,2.4,4],[1.5,2.4,3.9],[2.1,2.3,3.9],[2.7,2,4.1],[3.2,2,4.2],[3.8,2,4],[4.4,1.9,3.5],[-4.4,1.6,3.9],[-3.3,1.5,4.2],[-2.7,1.6,4.1],[-2.1,1.5,4],[-1.4,1.4,4],[-.8,1.5,3.9],[-.1,1.6,3.9],[.6,1.4,3.8],[1.2,1.3,3.8],[1.9,1.3,3.7],[2.3,1,3.8],[3,1.1,4],[3.7,.9,4.1],[4.3,.9,3.7],[-4.8,.6,3.7],[-4.1,.7,4],[-3.5,.6,4.2],[-2.6,.6,4],[-2,.5,3.9],[-1.4,.4,3.9],[-.5,.5,3.7],[.1,.6,3.6],[.7,.4,3.5],[1.4,.4,3.5],[2.2,.1,3.7],[2.9,.3,3.9],[3.5,.2,4],[4.3,.2,3.7],[-4.7,0,4],[-3.2,-.4,4.2],[-2.6,-.4,4],[-2,-.3,3.9],[-1.3,-.4,3.8],[-.6,-.3,3.7],[.1,-.4,3.7],[.8,-.2,3.6],[1.5,-.4,3.7],[2,-.4,3.9],[3.2,-.6,4],[3.9,-.7,3.9],[4.6,-.6,3.2],[-4.2,-1.2,4],[-3.4,-1.4,4],[-2.7,-1.4,4.1],[-2,-1.4,4.1],[-1.4,-1.5,4.2],[-.8,-1.3,4],[-.1,-1.5,4.1],[.5,-1.4,4.2],[1.2,-1.5,4.3],[1.9,-1.5,4.3],[2.4,-1.7,4.5],[3.3,-1.8,4.1],[4.4,-1.7,3.4],[-3.5,-2.4,4],[-2.7,-2.4,4.1],[-2,-2.5,4.2],[-1.3,-2.4,4.2],[-.7,-2.5,4.2],[0,-2.5,4.3],[.7,-2.6,4.4],[1.3,-2.5,4.4],[2,-2.6,4.5],[3,-2.7,4.3],[3.7,-2.7,4],[4.3,-2.8,3.3],[-3.3,-3.3,3.8],[-2.4,-3.4,4.3],[-1.7,-3.3,4.2],[-1,-3.5,4.2],[-.3,-3.4,4.4],[.4,-3.5,4.6],[1,-3.6,4.7],[1.7,-3.4,4.5],[2.3,-3.5,4.4],[3,-3.6,4.2],[3.6,-3.4,3.9],[4.3,-3.4,3.5],[-2.7,-4.3,4.2],[-1.9,-4.2,4.3],[-1.4,-4.3,4.4],[-.7,-4.3,4.3],[0,-4.3,4.4],[.6,-4.5,4.7],[1.4,-4.3,4.6],[2,-4.4,4.4],[2.6,-4.4,4.3],[3.3,-4.3,4],[4,-4.2,3.7],[4.5,-4.4,3.5],[-2.7,-4.9,3.7],[-1.9,-5,4.2],[-1,-5,4.2],[-.3,-5,4.2],[.5,-5.1,4.3],[1,-5.1,4.3],[2,-5.3,4.4],[2.6,-5,4],[3.2,-5.2,3.6],[-2.5,-5.9,3],[-1.7,-5.8,3.6],[-1,-5.9,3.8],[-.2,-5.8,3.9],[.4,-5.8,3.9],[1,-5.8,3.9],[1.7,-5.9,4],[2.3,-6,3.4],[-2.2,-6.5,2.3],[-1.5,-6.6,2.9],[-.7,-6.6,3.1],[.1,-6.6,3.2],[.9,-6.6,3.2],[1.4,-6.8,3.8],[-2.7,-7.1,.6],[-2,-7.2,.9],[-1.3,-7.2,.9],[-.5,-7.2,.9],[.3,-7.2,.9],[1.1,-7.1,.9],[-3.1,-6.2,1],[3.5,-5.5,.6],[2.9,-6.1,.6],[4.2,-4.8,.7]];

var naiveCcr2 = [[.33,6.46,1.8],[-2.32,5.9,1],[-2.2,5.9,1],[-1.84,5.94,1],[-1.58,6.1,.9],[-.42,5.9,1],[-.33,5.58,1.1],[-3.03,5.52,.9],[-3.06,4.64,2.2],[.99,5.26,1],[-2.35,4.8,.8],[-2,4.55,.7],[-3.65,4.06,.9],[-3.5,4.22,1],[-3.46,3.8,1],[-5.25,3.15,1.8],[-4.45,3.4,1.7],[-4.75,3.3,.5],[-4,3.44,.4],[-3.72,3.25,.8],[-2.6,3.67,1.8],[-2.54,3.4,1.5],[-1.6,4.15,.8],[-.87,4.06,.7],[-.5,4.28,.7],[-.43,3.83,.8],[-.72,3.57,.7],[.75,4.15,.8],[1.26,4.28,.8],[.97,3.63,.9],[1.98,4.7,.8],[2.1,4.15,.8],[2.3,3.9,.8],[2.8,4.3,.7],[2.78,3.25,.9],[1.58,3.3,.8],[1.19,3.1,1],[.29,3.83,.7],[.03,3.37,.8],[-.22,3.08,.8],[-.5,2.92,1.1],[-1.74,3.08,.9],[-1.45,3,.9],[-1.23,2.27,1],[-.97,1.79,.9],[-.54,2.27,.7],[-.04,2.66,.8],[2.03,2.56,2],[2.72,2.1,1.6],[.1,1.85,.8],[.19,1.46,.9],[-1.4,1.36,1.1],[-1.35,1.04,1],[-.55,1.4,2],[.12,.97,1.5],[-.8,.81,.9],[-.9,.65,.9],[1.26,.88,.8],[2.07,.97,1],[3.72,1.2,1],[2.93,.32,1.8],[1.19,.06,.5],[1.88,-.16,1],[1.96,-.39,1],[1.62,-.78,1],[-.48,-.39,.8],[-.91,-1.07,2.2],[-.7,-1.27,2],[-.46,-.97,1],[-.25,-1.14,1],[-1.7,-1.17,1],[-3.9,-1.5,.8],[2.1,-1.6,1],[4.14,-1.88,1.4],[4.58,-1.95,1.5],[-.1,-2.05,1],[.12,-3,1.8],[-1.38,-2.82,1],[-3.29,-3.25,1.2],[1.52,-2.76,1.8],[1.46,-3.02,1.5],[3.09,-3.34,1.8],[.94,-3.6,1.1],[2.94,-3.93,1.4],[-2.6,-4.25,.9],[-3.26,-4.6,.7],[-1.75,-4.77,2],[-2.19,-5.78,1],[-1.64,-5.78,1.5],[-2.06,-6.92,1.7],[.5,-8.34,1.3],[-7.75,-7.85,1.5],[-7.6,-7.9,1.6],[-7.4,-7.7,2.4],[-7.45,-8.1,1.2],[-7.1,-7.85,1.5],[-6.8,-8.1,2.6],[-6.7,-8.1,2.7],[-6.6,-8.1,2.5],[-6.45,-8.1,1.2]];
var shamCcr2 = [[-2.6,5.6,1.2],[-2.4,5.2,1],[-2.2,5.7,.9],[-1.8,5.6,1],[-2,5.1,1.2],[-1.2,5.4,1],[-1.1,5.1,1.1],[-.9,5.5,1.3],[-.75,5.6,1.6],[-.2,6,1],[-.1,5.5,1.2],[0,5.7,1.3],[.6,5.7,1.7],[-3.1,5,1.1],[-3.2,4.7,.9],[-2.5,4.4,1.4],[-1.8,4.2,1.1],[-1.5,4.7,.9],[-.9,4.7,1],[-.85,4.3,1],[-.6,4,.9],[-.2,4.7,1],[-.05,4.5,1],[.3,3.7,1],[.45,3.9,1.2],[.5,4,1.3],[.9,3.9,1],[.95,4.4,1],[1.5,4,.9],[1.9,4.4,1],[2,4.5,1],[2.2,4.2,1],[2.35,3.7,1.7],[2.7,4.7,1.2],[-3.8,4,.9],[-3.4,4.3,.7],[-3,3.8,1],[-2.9,3.2,1],[-4.4,3.5,.8],[-4.3,3,.8],[-4.1,3.2,.9],[-2,3.4,1.9],[-1.9,3.9,1],[-1.6,3.2,1],[-1.2,3.6,.9],[-.8,3.1,1.1],[-.3,3.2,1],[2.3,2.6,1],[-3.1,2.2,.9],[-2.2,2.5,.9],[-2,2.1,.8],[-1.75,2.5,1],[-1.5,2.6,1],[-1.6,1.9,.9],[-.6,2.3,1],[-.3,2.6,1],[.1,2.6,1],[.3,2.2,1],[.4,1.9,1],[1.6,2.1,1.4],[2,2.6,1],[2.7,2.5,.9],[2.5,2,1],[2.35,2,1],[3.3,2.7,.9],[4,3.1,1],[4.2,3,1],[4.4,2.2,1],[-2.2,1.7,.9],[-2,1.2,.9],[-1.9,.8,1.2],[-1.75,1,1.2],[-1.4,.6,1],[-1,1.7,1],[-.65,1.4,1.4],[-.5,.7,1],[-.3,.5,.9],[.1,.7,1],[.2,1,1],[.45,1.3,.9],[.7,1.4,1],[.3,.3,1],[.65,.9,1],[1.1,1.1,1],[1.8,.9,1],[2.1,1.2,1],[2.5,1.4,1],[2.7,1.1,1],[3,1.1,1],[3.4,1,1],[3.5,1.3,.7],[3.85,1.2,1],[4.1,1.2,1],[3.3,.7,1],[3.4,.4,1],[3.5,-.1,1.1],[3.6,-.5,1],[3.8,-.5,1],[-2.8,-.1,1],[-2.8,-.7,1],[-2.2,-.3,1],[-2,-.7,.9],[-2.2,-1.2,1.2],[-1.1,-1.1,.8],[-1,-1.4,.8],[-.7,-.1,.8],[-.3,-.6,.8],[.1,-.3,1],[.1,-.8,1],[.15,-1.3,1.1],[.55,-.5,1],[.7,-1.6,1],[1,-.7,1],[1.2,-1.3,1],[1.4,-.9,1],[1.4,-2,1],[1.3,-2.4,.8],[1.5,-.1,1],[1.9,-.6,1.1],[1.9,-1.6,1],[2,-1.2,1],[1.8,-2,1.2],[2.3,-1,1],[2.5,-.6,1],[2.2,-2.3,1.2],[2.7,-2.3,1.1],[-1.9,-2.7,.9],[-2,-3.6,.9],[-.35,-2.4,1],[-.3,-3.2,1],[-.7,-3.2,.8],[-.1,-3.2,1],[-.2,-4,1],[-.3,-4.3,1.2],[-.2,-4.6,1],[.5,-3.2,1.2],[.5,-3.7,1],[.55,-4.7,1],[.15,-3.1,1],[1.2,-4,1],[1.4,-4.1,1],[1.6,-4,2],[1.65,-3.5,1.2],[3.3,-3,2.1],[3.45,-3.1,1.5],[4,-3,1.5],[4.4,-2.9,1.2],[4.4,-4.1,2.3],[4.6,-4.1,2.2],[4.65,-4.6,1.9],[2.95,-4,1.5],[-2.85,-4.2,2.3],[-2.7,-3.8,1.2],[-1.4,-4.4,.9],[-2.5,-5,1.2],[-1.5,-5.6,1.1],[-2.2,-5.9,1.2],[-.65,-6.1,1.1],[.65,-5.4,1.2],[.85,-5.9,1.1],[.9,-5.8,1.3],[1.4,-5,1],[2.2,-6.2,2.3],[-.95,-6.8,2],[-1.3,-7,1.9],[-9,.05,.9],[-7.75,.3,1.2],[-6.6,.25,1.2],[-7.8,-7.9,1],[-7.6,-7.9,1.2],[-7.4,-8.1,1.4],[-7.4,-7.8,1.9],[-7.2,-7.7,2.1],[-7,-7.6,2.2],[-7.2,-7.5,2.1],[-7,-7.8,3.4],[-6.7,-8.1,3.4],[-6.6,-8.05,2.5],[-6.8,-8.1,2.6]];
var sniCcr2 = [[-2.4,6,1.9],[-1.3,6,1],[-1.15,6,1.1],[-1.5,5.8,.9],[-.9,6,1],[-.75,5.8,1],[-.3,6.5,1.3],[-.3,6,1.4],[.15,6,.9],[.3,5.9,1],[.4,5.6,1],[.75,6.2,.9],[-2.1,5.7,.9],[-.55,5.3,2],[-.65,5.2,1.7],[-3,4.6,1.7],[-3.2,5.3,.9],[-2.9,5.5,1.1],[-3.6,4.9,1.1],[-2.5,5,.9],[-1.9,4.9,.8],[-1.1,4.6,.8],[-.75,4.6,1],[-.5,4.8,1.2],[-.1,4.6,.9],[.1,4.1,1],[.2,4.3,.9],[.8,5.3,.9],[1.65,5.2,1],[1.65,4.7,.9],[2.1,4.8,.9],[2.4,4.8,1],[2.8,4.6,.9],[.65,4,1],[1.5,3.7,.9],[2.2,4.2,1],[2.4,4.1,1],[-3,4.1,1.2],[-4.6,3.2,.9],[-3.9,4.1,.8],[-3.4,3.5,.8],[-3.8,3.1,.9],[-5.2,3.5,1.2],[-5.3,3.1,.8],[-4.7,2.9,1],[-2.9,3,.9],[-2.4,3.6,.8],[-2,4.1,1],[-1.9,4,1.8],[-1.7,3.9,2],[-1.6,4.3,1.2],[-1.2,3.8,.8],[-1,3.8,1],[-.9,3.4,1.2],[-.8,2.7,1.6],[-.45,3.1,1],[-.2,2.9,.9],[.1,3,1],[.75,2.6,.9],[1.1,2.5,1],[1.7,2.2,.9],[2.1,2.4,1],[2.8,3,1],[3.1,3.2,1],[3.7,3.3,1.1],[3.7,2.9,1],[4,2.3,1],[4.5,2.3,1.1],[4.7,1.9,.9],[-3.5,2,.9],[-2.9,1.7,.9],[-2.1,2.9,.9],[-2,2.5,.9],[-1.9,2.1,.9],[-.9,2.3,1.2],[-.85,1.9,1.2],[-1,1.7,1.2],[-.4,2,1],[.1,2.2,.9],[.75,1.9,1],[1.1,1.9,1],[1.35,2.2,.9],[1.4,1.4,1],[2,1.9,1],[2.4,1.8,.9],[3.1,2,1],[3.3,1.7,1],[3.7,1.4,1],[4.3,1.5,1.1],[-4.6,1.4,.7],[-3.5,1.5,1],[-3.3,.8,.9],[-2.9,1.2,.9],[-2,1.1,.9],[.0,.9,1.9],[.75,.95,1],[1.1,.8,.8],[1.35,.3,1],[2.4,1.2,1],[2.9,.8,.9],[3.4,.7,.9],[4.1,.7,1],[-5,.6,.9],[-3.9,.3,.8],[-2.4,.4,.9],[-2.1,.3,.9],[-1.5,.2,.9],[-.9,.9,.8],[1.2,.1,1],[2.0,.2,.9],[3.5,.3,.9],[2.35,-.2,1.6],[2.5,-.3,.9],[1.3,-.9,.8],[2.3,-.9,1],[2.4,-1.2,1.1],[2.7,-1.3,.9],[3.05,-1.4,.9],[3.3,-.9,1],[3.5,-.8,1.1],[3.8,-.4,.9],[4.5,-.5,1],[-1.1,-.9,.9],[-1.9,-1.5,1.2],[-2.3,-1.9,1.3],[-.6,-1.4,.9],[-.15,-1.5,1],[-.7,-1.8,.9],[.45,-.9,.9],[1,-1.4,.9],[.9,-2.2,1],[.7,-2.3,1.1],[1.2,-2.4,.9],[2,-2.3,1.6],[3.7,-2.1,1.4],[-1.4,-2.4,1],[-.5,-2.3,1],[0,-2.6,1.2],[.5,-3,1],[.55,-3.4,1.2],[2,-3.6,1.4],[2,-3.9,1.3],[2.3,-3.9,1.8],[2.8,-4.2,1.3],[-3.4,-3.6,1.6],[-2.7,-4.6,1.3],[-2.1,-4.2,1.1],[-1.2,-4.4,1.1],[-.45,-4.5,.9],[.1,-4.9,1.1],[.8,-4.9,2.2],[1.1,-4.5,1],[1.5,-4.6,1],[1.4,-5,1],[2.3,-4.8,1.3],[-2.3,-5.4,1.2],[-2,-5.3,1.8],[-1.9,-5.6,1.5],[-2,-5.9,1.6],[-1.7,-5.2,1],[-1.5,-5.4,1],[-1.4,-5.5,1.1],[-1.7,-6.3,1.2],[-.4,-5.7,1.2],[-.15,-5.7,1.2],[.1,-5.2,1],[.55,-6.4,1.4],[1.6,-6.3,1.3],[1.7,-5.9,1.4],[1.85,-5.9,1.4],[1.7,-6.7,1.8],[-9,-.3,.9],[-8.9,.5,.8],[-8.5,-.9,.7],[-8.3,0,.9],[-8.2,-1.3,1.4],[-7.8,.5,.7],[-7.4,-1.2,.7],[-6.6,-.9,.7],[-5.8,-.1,.8],[-5.6,-.6,.8],[-5.4,-.2,.9],[-4.5,-.3,.9],[-4.2,-.7,1],[-8,-7.9,.4],[-7.8,-7.9,.9],[-7.6,-7.9,1],[-7.5,-7.8,1.7],[-7.4,-7.7,2.8],[-7.3,-7.6,3.4],[-7.2,-7.7,3.2],[-7,-7.9,2],[-6.8,-8.1,3],[-6.7,-8.1,3.1],[-6.55,-8.1,2.4]];

var naiveLy6c2 = [[-8,.2,2.3],[-4.1,3.9,2],[-3.65,3.8,2.2],[-1.8,3.1,1.3],[-3.2,-4.9,2.2],[-6.8,-8.1,3.7],[-6.7,-8.1,3.8],[-6.6,-8.1,3.8],[-6.5,-8.1,3.7],[-6.1,-8,2.3],[-6,-8,2.2],[-5.95,-8.05,2]];
var shamLy6c2 = [[-7.7,.3,3],[-3.3,-.4,1.4],[-1.4,3,1.5],[.7,3.6,1.4],[2.4,-.1,1.4],[4.6,-2,1.8],[-.7,-2.2,1.4],[-.5,-6,1.8],[-2.75,-6.8,2.6],[-6.7,-8.1,3.8],[-6.6,-8.1,4.2],[-6.45,-8,5],[-6.3,-8,4.7],[-6.1,-8.05,2.8],[-6,-8.05,2.6]];
var sniLy6c2 = [[-3.3,5.3,1.4],[-.4,2.6,1.3],[3.1,-1.6,1.7],[-6.8,-8.1,3.7],[-6.7,-8.1,3.8],[-6.15,-8.1,2.5],[-6.05,-8.1,2.6],[-6,-8.1,2.3]];

// where each panel sits on the page: axes box, page x of -10 and 5, page y of 5 and -10, title centre
var panels = [
  { title: 'Naive', outline: naiveOutline, pieces: [naiveTailOutline, clusterOutline], loose: naiveLoose, cells: naiveCcl2Fill.concat(naiveCcl2), top: ccl2Max, lift: 0.3, fill: '#2ea882', rim: '#2c7a8e', pieceFill: '#2a8f8a', box: [114, 38, 540, 230], xAt: [133, 496], yAt: [67, 221], titleY: 20, bar: [561, 98, 578, 190], barTitleY: 87, gene: 'Ccl2', ticks: ccl2Ticks },
  { title: 'Sham', outline: shamOutline, pieces: [clusterOutline], loose: shamLoose, cells: shamCcl2Fill.concat(shamCcl2), top: ccl2Max, lift: 0.15, fill: '#43b878', rim: '#2a7f8e', pieceFill: '#44bf70', box: [114, 334, 540, 526], xAt: [133, 497], yAt: [363, 517], titleY: 316, bar: [561, 394, 578, 486], barTitleY: 383, gene: 'Ccl2', ticks: ccl2Ticks },
  { title: 'SNI', outline: sniOutline, pieces: [clusterOutline], loose: sniLoose, cells: sniCcl2Fill.concat(sniCcl2), top: ccl2Max, lift: 0.15, fill: '#45ba76', rim: '#2a7f8e', pieceFill: '#44bf70', box: [110, 632, 529, 823], xAt: [129, 487], yAt: [661, 813], titleY: 615, bar: [549, 691, 566, 782], barTitleY: 680, gene: 'Ccl2', ticks: ccl2Ticks },
  { title: 'Naive', outline: naiveOutline, pieces: [naiveTailOutline, clusterOutline], loose: naiveLoose, cells: naiveCcr2, top: ccr2Max, fill: '#440154', rim: '#440154', box: [666, 33, 1092, 225], xAt: [685, 1049], yAt: [62, 216], titleY: 15, bar: [1112, 96, 1129, 185], barTitleY: 81, gene: 'Ccr2', ticks: ccr2Ticks },
  { title: 'Sham', outline: shamOutline, pieces: [clusterOutline], loose: shamLoose, cells: shamCcr2, top: ccr2Max, fill: '#440154', rim: '#440154', box: [658, 332, 1097, 524], xAt: [677, 1053], yAt: [361, 515], titleY: 314, bar: [1118, 395, 1136, 483], barTitleY: 380, gene: 'Ccr2', ticks: ccr2Ticks },
  { title: 'SNI', outline: sniOutline, pieces: [clusterOutline], loose: sniLoose, cells: sniCcr2, top: ccr2Max, fill: '#450657', rim: '#440154', box: [662, 631, 1081, 822], xAt: [681, 1038], yAt: [660, 813], titleY: 613, bar: [1101, 694, 1118, 782], barTitleY: 679, gene: 'Ccr2', ticks: ccr2Ticks },
  { title: 'Naive', outline: naiveOutline, pieces: [naiveTailOutline, clusterOutline], loose: naiveLoose, cells: naiveLy6c2, top: ly6c2Max, fill: '#440154', rim: '#440154', box: [45, 913, 352, 1053], xAt: [59, 322], yAt: [935, 1048], titleY: 901, bar: [369, 960, 381, 1025], barTitleY: 950, gene: 'Ly6c2', ticks: ly6c2Ticks, small: true, axisTop: 940, yTicks: yTickValuesCut },
  { title: 'Sham', outline: shamOutline, pieces: [clusterOutline], loose: shamLoose, cells: shamLy6c2, top: ly6c2Max, fill: '#440154', rim: '#440154', box: [445, 913, 753, 1053], xAt: [459, 722], yAt: [935, 1048], titleY: 901, bar: [769, 960, 781, 1025], barTitleY: 950, gene: 'Ly6c2', ticks: ly6c2Ticks, small: true },
  { title: 'SNI', outline: sniOutline, pieces: [clusterOutline], loose: sniLoose, cells: sniLy6c2, top: ly6c2Max, fill: '#440154', rim: '#440154', box: [845, 913, 1154, 1053], xAt: [859, 1122], yAt: [935, 1048], titleY: 901, bar: [1169, 960, 1181, 1025], barTitleY: 950, gene: 'Ly6c2', ticks: ly6c2Ticks, small: true }
];

Chart.defaults.font.family = '"Liberation Sans", Arial, sans-serif';
Chart.defaults.animation = false;

function viridisAt(t) {
  t = Math.max(0, Math.min(1, t));
  var pos = t * (viridis.length - 1), i = Math.min(Math.floor(pos), viridis.length - 2), f = pos - i;
  var a = viridis[i], b = viridis[i + 1], out = '#';
  for (var k = 1; k < 7; k += 2) {
    var c = Math.round(parseInt(a.substr(k, 2), 16) * (1 - f) + parseInt(b.substr(k, 2), 16) * f);
    out += (c < 16 ? '0' : '') + c.toString(16);
  }
  return out;
}

function addCanvas(left, top, width, height) {
  var c = document.createElement('canvas');
  c.width = width; c.height = height;
  c.style.left = left + 'px'; c.style.top = top + 'px';
  c.style.width = width + 'px'; c.style.height = height + 'px';
  document.getElementById('page').appendChild(c);
  return c.getContext('2d');
}

function xyPoints(list) {
  return list.map(function (c) { return { x: c[0], y: c[1] }; });
}

// the first small panel has its y axis cut short by the pasted label
var axisMask = {
  id: 'axisMask',
  afterDatasetsDraw: function (chart, args, opts) {
    if (!opts.until) return;
    chart.ctx.fillStyle = '#fff';
    chart.ctx.fillRect(chart.chartArea.left - 6, chart.chartArea.top - 2, 8, opts.until - opts.boxTop + 2);
  }
};

var barTicks = {
  id: 'barTicks',
  afterDatasetsDraw: function (chart) {
    var y = chart.scales.y, a = chart.chartArea, ctx = chart.ctx;
    ctx.strokeStyle = 'rgba(255,255,255,0.75)';
    ctx.lineWidth = 1;
    y.ticks.forEach(function (t) {
      var p = Math.round(y.getPixelForValue(t.value)) + 0.5;
      ctx.beginPath();
      ctx.moveTo(a.left, p); ctx.lineTo(a.left + 3, p);
      ctx.moveTo(a.right - 3, p); ctx.lineTo(a.right, p);
      ctx.stroke();
    });
  }
};

panels.forEach(function (p) {
  var L = p.box[0], T = p.box[1], R = p.box[2], B = p.box[3];
  var yAxisW = p.small ? 34 : 47, xAxisH = p.small ? 30 : 40;
  var titleSize = p.small ? 12.5 : 18, tickSize = p.small ? 10 : 14, axisTitleSize = p.small ? 11.5 : 16;
  var canvasTop = Math.round(p.titleY - titleSize / 2);
  var xUnit = (p.xAt[1] - p.xAt[0]) / 15, yUnit = (p.yAt[1] - p.yAt[0]) / 15;
  var ctx = addCanvas(L - yAxisW + 1, canvasTop + 1, R - L + yAxisW + 2, B + xAxisH - canvasTop);
  var r = p.small ? 2.2 : 3;
  var lift = p.lift || 0;
  var isPurple = p.fill === '#440154' || p.fill === '#450657';

  var sets = [
    {
      data: xyPoints(p.outline),
      showLine: true, fill: 'shape', backgroundColor: p.fill, borderColor: p.rim,
      borderWidth: isPurple ? (p.small ? 3 : 4) : 2.5, borderJoinStyle: 'round', tension: 0.25, pointRadius: 0, order: 4
    },
    {
      data: xyPoints(p.loose),
      pointRadius: r, pointBorderWidth: 0, pointBackgroundColor: '#440154', order: 2
    },
    {
      data: p.cells.map(function (c) { return { x: c[0], y: c[1], v: c[2] }; }),
      pointRadius: r, pointBorderWidth: 0, order: 1,
      pointBackgroundColor: function (c) { return c.raw ? viridisAt((c.raw.v + lift) / p.top) : '#440154'; }
    }
  ];
  p.pieces.forEach(function (piece) {
    sets.push({
      data: xyPoints(piece),
      showLine: true, fill: 'shape', backgroundColor: p.pieceFill || '#440154', borderColor: p.pieceFill || '#440154',
      borderWidth: p.small ? 2 : 3, borderJoinStyle: 'round', tension: 0.25, pointRadius: 0, order: 3
    });
  });

  new Chart(ctx, {
    type: 'scatter',
    data: { datasets: sets },
    options: {
      responsive: false,
      layout: { padding: { right: 2 } },
      plugins: {
        legend: { display: false },
        tooltip: { enabled: false },
        axisMask: { until: p.axisTop, boxTop: T },
        title: {
          display: true, text: p.title, color: '#111', fullSize: false,
          font: { size: titleSize, weight: 'bold', lineHeight: 1 },
          padding: { top: 0, bottom: T - canvasTop - titleSize }
        }
      },
      scales: {
        x: {
          type: 'linear',
          min: -10 - (p.xAt[0] - L) / xUnit, max: 5 + (R - p.xAt[1]) / xUnit,
          afterBuildTicks: function (s) { s.ticks = xTickValues.map(function (v) { return { value: v }; }); },
          afterFit: function (s) { s.height = xAxisH; },
          grid: { drawOnChartArea: false, tickLength: p.small ? 3 : 4, tickColor: '#333' },
          border: { color: '#333', width: 1.2 },
          ticks: { color: '#222', font: { size: tickSize }, autoSkip: false, maxRotation: 0, padding: p.small ? 1 : 2 },
          title: { display: true, text: 'UMAP_1', color: '#222', font: { size: axisTitleSize, lineHeight: 1 }, padding: 0 }
        },
        y: {
          type: 'linear',
          min: -10 - (B - p.yAt[1]) / yUnit, max: 5 + (p.yAt[0] - T) / yUnit,
          afterBuildTicks: function (s) { s.ticks = (p.yTicks || yTickValues).map(function (v) { return { value: v }; }); },
          afterFit: function (s) { s.width = yAxisW; },
          grid: { drawOnChartArea: false, tickLength: p.small ? 3 : 4, tickColor: '#333' },
          border: { color: '#333', width: 1.2 },
          ticks: { color: '#222', font: { size: tickSize }, autoSkip: false, padding: p.small ? 2 : 3 },
          title: { display: true, text: 'UMAP_2', color: '#222', font: { size: axisTitleSize, lineHeight: 1 }, padding: 0 }
        }
      }
    },
    plugins: [axisMask]
  });

  // colour bar
  var bL = p.bar[0], bT = p.bar[1], bR = p.bar[2], bB = p.bar[3];
  var bTitle = p.small ? 11.5 : 16, bTick = p.small ? 10 : 14, labelW = 30, spare = 24;
  var bTop = Math.round(p.barTitleY - bTitle / 2);
  var bctx = addCanvas(bL, bTop, bR - bL + labelW, bB - bTop + spare);
  new Chart(bctx, {
    type: 'bar',
    data: {
      labels: [p.gene],
      datasets: [{
        data: [p.top],
        categoryPercentage: 1, barPercentage: 1,
        backgroundColor: function (c) {
          var a = c.chart.chartArea;
          if (!a) return '#440154';
          var g = c.chart.ctx.createLinearGradient(0, a.bottom, 0, a.top);
          viridis.forEach(function (col, i) { g.addColorStop(i / (viridis.length - 1), col); });
          return g;
        }
      }]
    },
    options: {
      responsive: false,
      plugins: {
        legend: { display: false },
        tooltip: { enabled: false },
        title: {
          display: true, text: p.gene, color: '#222', align: 'start',
          font: { size: bTitle, weight: 'normal', lineHeight: 1 },
          padding: { top: 0, bottom: bT - bTop - bTitle }
        }
      },
      scales: {
        x: {
          afterFit: function (s) { s.height = spare; },
          ticks: { display: false },
          grid: { display: false },
          border: { display: false }
        },
        y: {
          position: 'right', min: 0, max: p.top,
          afterBuildTicks: function (s) { s.ticks = p.ticks.map(function (v) { return { value: v }; }); },
          afterFit: function (s) { s.width = labelW; },
          grid: { display: false, drawTicks: false },
          border: { display: false },
          ticks: { color: '#222', font: { size: bTick }, padding: p.small ? 5 : 7, autoSkip: false }
        }
      }
    },
    plugins: [barTicks]
  });
});
</script>
</body>
</html>
